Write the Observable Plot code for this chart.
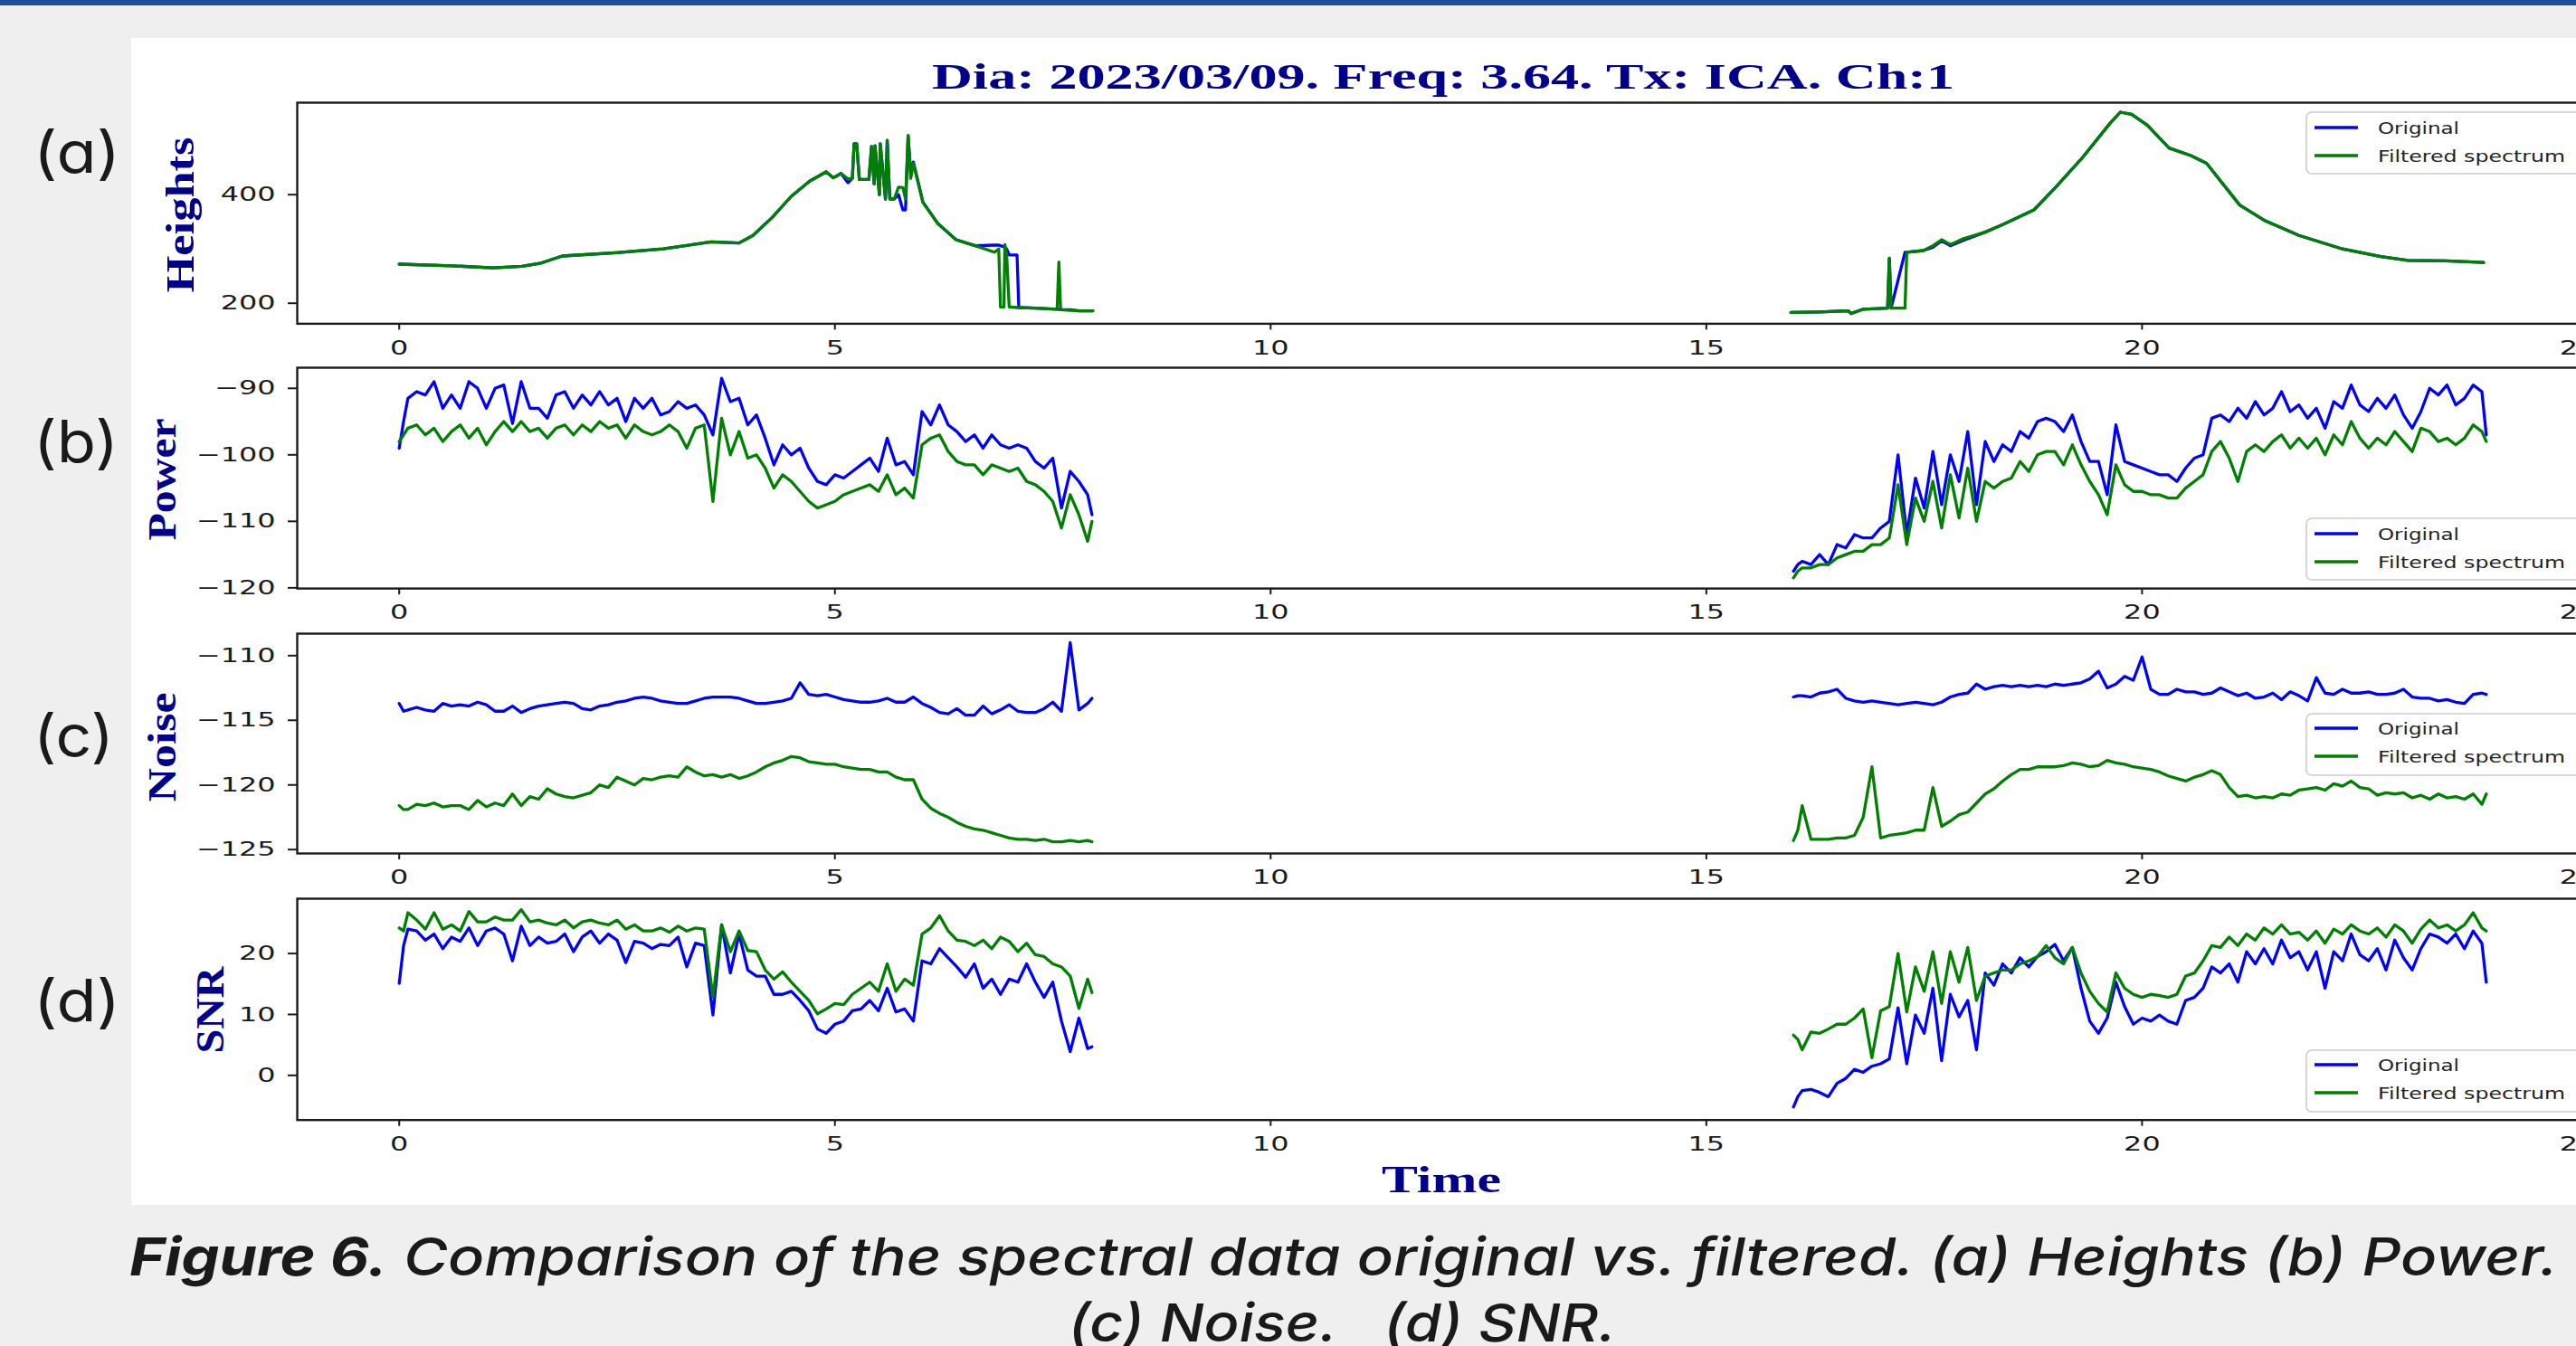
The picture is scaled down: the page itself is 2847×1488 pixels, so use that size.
<!DOCTYPE html>
<html><head><meta charset="utf-8">
<script src="https://cdn.jsdelivr.net/npm/d3@7"></script>
<script src="https://cdn.jsdelivr.net/npm/@observablehq/plot@0.6"></script>
<style>
html,body{margin:0;padding:0;width:2847px;height:1488px;overflow:hidden;background:#efefef;}
#topbar{position:absolute;left:0;top:0;width:2847px;height:6px;background:#1f4e9c;}
#panel{position:absolute;left:145px;top:42px;width:2702px;height:1290px;background:#fff;}
#charts svg{position:absolute;left:0;}
#overlay{position:absolute;left:0;top:0;}
</style></head><body>
<div id="topbar"></div><div id="panel"></div>
<div id="charts"></div>
<svg id="overlay" width="2847" height="1488"></svg>
<script>
// ---------- DATA ----------
const titleText = "Dia: 2023/03/09. Freq: 3.64. Tx: ICA. Ch:1";
const xLabel = "Time";
const yLabels = ["Heights", "Power", "Noise", "SNR"];
const panelTags = ["(a)", "(b)", "(c)", "(d)"];
const seriesNames = ["Original", "Filtered spectrum"];
const xTicks = [0, 5, 10, 15, 20, 25];
const yTicksHeights = [200, 400];
const yTicksPower = [-90, -100, -110, -120];
const yTicksNoise = [-110, -115, -120, -125];
const yTicksSNR = [0, 10, 20];
const captionBold = "Figure 6.";
const captionRest = " Comparison of the spectral data original vs. filtered. (a) Heights (b) Power.";
const captionLine2 = "(c) Noise.\u00a0\u00a0 (d) SNR.";

// time grids (hours)
const tL = [0,0.05,0.1,0.2,0.3,0.4,0.5,0.6,0.7,0.8,
 0.9,1.0,1.1,1.2,1.3,1.4,1.5,1.6,1.7,1.8,
 1.9,2.0,2.1,2.2,2.3,2.4,2.5,2.6,2.7,2.8,
 2.9,3.0,3.1,3.2,3.3,3.4,3.5,3.6,3.7,3.8,
 3.9,4.0,4.1,4.2,4.3,4.4,4.5,4.6,4.7,4.8,
 4.9,5.0,5.1,5.2,5.3,5.4,5.5,5.6,5.7,5.8,
 5.9,6.0,6.1,6.2,6.3,6.4,6.5,6.6,6.7,6.8,
 6.9,7.0,7.1,7.2,7.3,7.4,7.5,7.6,7.7,7.8,
 7.9,7.95];
const tR = [16,16.05,16.1,16.2,16.3,16.4,16.5,16.6,16.7,16.8,
 16.9,17.0,17.1,17.2,17.3,17.4,17.5,17.6,17.7,17.8,
 17.9,18.0,18.1,18.2,18.3,18.4,18.5,18.6,18.7,18.8,
 18.9,19.0,19.1,19.2,19.3,19.4,19.5,19.6,19.7,19.8,
 19.9,20.0,20.1,20.2,20.3,20.4,20.5,20.6,20.7,20.8,
 20.9,21.0,21.1,21.2,21.3,21.4,21.5,21.6,21.7,21.8,
 21.9,22.0,22.1,22.2,22.3,22.4,22.5,22.6,22.7,22.8,
 22.9,23.0,23.1,23.2,23.3,23.4,23.5,23.6,23.7,23.8,
 23.9,23.95];

// (a) Heights
const hTL = [0,0.6,1.08,1.41,1.63,1.87,2.49,3.03,3.58,3.9,4.06,4.28,4.5,4.71,4.9,4.98,5.07,5.15,5.2,5.22,
 5.25,5.28,5.39,5.42,5.45,5.46,5.51,5.52,5.58,5.6,5.63,5.68,5.73,5.78,5.81,5.84,5.87,5.9,6.01,6.18,
 6.39,6.61,6.83,6.88,6.9,6.94,6.95,6.97,7.0,7.09,7.11,7.3,7.55,7.57,7.59,7.7,7.8,7.96];
const hOrigL = [272,269,265,268,274,287,293,300,313,311,325,358,397,425,442,431,439,422,430,494,
 494,428,428,489,420,490,400,494,392,500,392,392,400,372,372,509,440,460,386,347,
 317,306,307,307,306,304,303,300,289,289,192,191,189,189,188,188,186,186];
const hFiltL = [272,269,265,268,274,287,293,300,313,311,325,358,397,425,442,431,439,429,430,494,
 494,428,428,489,420,490,400,494,392,500,392,392,414,413,392,509,430,458,386,347,
 317,306,294,300,193,193,308,290,193,192,192,191,189,276,188,187,186,186];
const hTR = [15.97,16.3,16.63,16.66,16.8,17.08,17.1,17.12,17.28,17.3,17.49,17.6,17.7,17.8,17.95,18.2,18.39,18.76,19.01,19.32,
 19.63,19.75,19.88,20.06,20.31,20.56,20.74,21.12,21.4,21.8,22.3,22.74,23.05,23.49,23.92];
const hOrigR = [183,184,186,181,189,191,283,191,294,294,297,303,315,306,316,331,344,372,414,469,
 531,552,548,528,486,472,458,381,353,325,300,286,279,278,275];
const hFiltR = [183,184,186,181,189,191,283,191,191,294,297,306,317,308,319,331,344,372,414,469,
 531,552,548,528,486,472,458,381,353,325,300,286,279,278,275];

// (b) Power
const powOrigL = [-99,-95,-91.5,-90.5,-91,-89,-93,-91,-93,-89,
 -90,-93,-90,-89.5,-95.3,-89,-93,-93,-94.5,-91,
 -90.5,-93,-91,-92.5,-90.5,-92.5,-91.5,-95,-91.5,-93,
 -91.5,-94,-93.5,-92,-93,-92.5,-94,-97,-88.5,-92,
 -91.5,-95.5,-94,-97.5,-101.5,-98.5,-100,-99,-102,-104,
 -104.5,-103,-103.5,-102.5,-101.5,-100.5,-102.5,-97.5,-101.5,-101,
 -103,-93.5,-95.5,-92.5,-95.5,-96.5,-98,-97,-99,-97,
 -98.5,-99,-98.5,-99,-101,-102,-100.5,-108,-102.5,-104,
 -106,-109];
const powFiltL = [-98,-97,-96,-95.5,-97,-96,-98,-96.5,-95.5,-97.5,
 -96,-98.5,-96.5,-95,-96.5,-95,-96.5,-96,-97.5,-96,
 -95.5,-97,-95.5,-96.5,-95,-96,-95.5,-97.5,-95.5,-96.5,
 -97,-96.5,-95.5,-96.5,-99,-96,-95.5,-107,-94.5,-100,
 -96.5,-100.5,-100,-102,-105,-103,-104,-105.5,-107,-108,
 -107.5,-107,-106,-105.5,-105,-104.5,-105.5,-103,-106,-105,
 -106.5,-98.5,-97.5,-97,-99.5,-101,-101.5,-101.5,-103,-101.5,
 -102,-102.5,-102,-104,-104.5,-105.5,-107,-111,-106,-109,
 -113,-110];
const powOrigR = [-117.5,-116.5,-116,-116.5,-115,-116.5,-113.5,-114,-112,-112.5,
 -112.5,-111,-110,-100,-112,-103.5,-108,-99.5,-107.5,-100,
 -104,-96.5,-107.5,-98,-101,-98.5,-99.5,-96.5,-97.5,-95,
 -94.5,-95,-96.5,-94,-98,-101,-101,-106,-95.5,-101,
 -101.5,-102,-102.5,-103,-103,-104,-102,-100.5,-100,-94.5,
 -94,-95,-93,-94.5,-92,-94,-93,-90.5,-93.5,-92.5,
 -94.5,-93,-96,-92,-93,-89.5,-92.5,-93.5,-91.5,-93,
 -91,-94,-96,-93.5,-90,-91,-89.5,-92.5,-91.5,-89.5,
 -90.5,-97];
const powFiltR = [-118.5,-117.5,-117,-117,-116.5,-116.5,-115.5,-115,-114.5,-114.5,
 -113.5,-113.5,-112.5,-104.5,-113.5,-106.5,-110,-104,-111,-103,
 -109.5,-102,-110,-104,-105,-104,-103.5,-101,-102.5,-100,
 -99.5,-99.5,-101.5,-98.5,-101.5,-104,-106,-109,-101.5,-104.5,
 -105.5,-105.5,-106,-106,-106.5,-106.5,-105,-104,-103,-99.5,
 -98,-100.5,-104,-99.5,-98.5,-99.5,-98,-97,-99,-97.5,
 -99,-97.5,-100,-97,-98.5,-95,-97.5,-99,-97.5,-98.5,
 -96.5,-98,-99.5,-96,-96.5,-98,-97.5,-98.5,-97.5,-95.5,
 -96.5,-98];

// (c) Noise
const noiseOrigL = [-113.7,-114.3,-114.2,-114.0,-114.2,-114.3,-113.7,-113.9,-113.8,-113.9,
 -113.6,-113.8,-114.3,-114.3,-113.9,-114.4,-114.1,-113.9,-113.8,-113.7,
 -113.6,-113.7,-114.1,-114.2,-113.9,-113.8,-113.6,-113.5,-113.3,-113.2,
 -113.3,-113.5,-113.6,-113.7,-113.7,-113.5,-113.3,-113.2,-113.2,-113.2,
 -113.3,-113.5,-113.7,-113.7,-113.6,-113.5,-113.3,-112.1,-113.0,-113.1,
 -113.0,-113.2,-113.4,-113.5,-113.6,-113.6,-113.5,-113.3,-113.6,-113.6,
 -113.2,-113.7,-114.0,-114.4,-114.5,-114.1,-114.6,-114.6,-113.9,-114.5,
 -114.2,-113.8,-114.3,-114.4,-114.4,-114.1,-113.6,-114.3,-109.0,-114.2,
 -113.7,-113.3];
const noiseFiltL = [-121.6,-121.9,-121.9,-121.5,-121.6,-121.4,-121.7,-121.6,-121.6,-121.9,
 -121.2,-121.7,-121.4,-121.6,-120.7,-121.6,-120.9,-121.1,-120.3,-120.7,
 -120.9,-121.0,-120.8,-120.6,-120.0,-120.2,-119.4,-119.7,-120.0,-119.5,
 -119.6,-119.4,-119.3,-119.4,-118.6,-119.0,-119.3,-119.2,-119.4,-119.2,
 -119.5,-119.3,-119.0,-118.6,-118.3,-118.1,-117.8,-117.9,-118.2,-118.3,
 -118.4,-118.4,-118.6,-118.7,-118.8,-118.8,-119.0,-119.0,-119.4,-119.6,
 -119.6,-121.1,-121.8,-122.2,-122.5,-122.9,-123.2,-123.4,-123.5,-123.7,
 -123.9,-124.1,-124.2,-124.2,-124.3,-124.2,-124.4,-124.4,-124.3,-124.4,
 -124.3,-124.4];
const noiseOrigR = [-113.2,-113.1,-113.1,-113.2,-112.9,-112.8,-112.6,-113.3,-113.5,-113.6,
 -113.5,-113.6,-113.7,-113.8,-113.7,-113.6,-113.7,-113.8,-113.6,-113.2,
 -113.0,-112.9,-112.2,-112.6,-112.4,-112.3,-112.4,-112.3,-112.4,-112.3,
 -112.4,-112.2,-112.3,-112.2,-112.1,-111.8,-111.2,-112.5,-112.2,-111.6,
 -111.9,-110.1,-112.6,-113.0,-113.0,-112.6,-112.8,-112.8,-113.0,-112.9,
 -112.5,-112.8,-113.1,-112.9,-113.3,-113.2,-112.9,-113.4,-112.8,-113.1,
 -113.5,-111.7,-112.9,-113.0,-112.6,-112.9,-112.9,-112.8,-113.0,-113.0,
 -112.9,-112.6,-113.2,-113.3,-113.3,-113.5,-113.4,-113.6,-113.7,-113.0,
 -112.9,-113.0];
const noiseFiltR = [-124.3,-123.5,-121.6,-124.2,-124.2,-124.2,-124.1,-124.1,-123.9,-122.5,
 -118.6,-124.1,-123.9,-123.8,-123.7,-123.5,-123.5,-120.2,-123.2,-122.8,
 -122.3,-122.1,-121.4,-120.7,-120.3,-119.7,-119.2,-118.8,-118.8,-118.6,
 -118.6,-118.6,-118.5,-118.3,-118.4,-118.6,-118.5,-118.1,-118.3,-118.4,
 -118.6,-118.7,-118.8,-119.0,-119.3,-119.5,-119.7,-119.4,-119.2,-118.9,
 -119.2,-120.2,-120.9,-120.8,-121.0,-120.9,-121.0,-120.7,-120.8,-120.4,
 -120.3,-120.2,-120.4,-119.9,-120.1,-119.7,-120.2,-120.3,-120.8,-120.6,
 -120.7,-120.6,-121.0,-120.8,-121.1,-120.7,-121.0,-120.9,-121.1,-120.7,
 -121.5,-120.7];

// (d) SNR
const snrOrigL = [15.1,21.3,24.0,23.7,22.2,23.2,20.8,22.7,22.0,24.2,
 21.3,23.7,24.2,23.2,18.8,24.5,21.3,22.7,21.7,22.0,
 23.2,20.3,22.7,23.7,21.7,23.2,22.2,18.5,22.0,21.7,
 20.8,21.5,21.3,22.7,17.8,21.7,21.3,9.9,24.7,16.8,
 23.2,17.3,16.3,16.3,13.3,13.3,13.8,12.3,10.6,7.6,
 6.9,8.4,8.9,10.6,10.9,12.3,10.6,14.3,10.4,10.9,
 8.9,18.8,18.3,20.8,19.3,17.8,16.1,18.3,14.3,15.8,
 13.3,15.8,15.3,18.3,15.3,12.8,15.3,8.9,3.9,9.4,
 4.4,4.7];
const snrFiltL = [24.2,23.7,26.7,25.5,24.0,26.7,24.0,24.7,23.7,26.9,
 25.2,25.2,26.0,25.5,25.5,27.2,25.2,25.5,25.0,24.7,
 25.5,24.2,25.2,25.5,25.0,24.7,25.5,24.0,24.7,23.7,
 23.7,24.2,23.5,24.5,23.7,24.2,24.0,12.8,24.7,20.3,
 23.7,20.5,20.3,17.3,15.8,17.0,15.3,13.8,12.3,10.1,
 10.9,11.8,11.6,13.3,14.3,15.3,13.8,18.3,13.8,15.8,
 14.8,23.2,24.2,26.2,23.7,22.2,22.0,21.3,22.2,20.8,
 22.7,22.0,20.3,21.7,19.8,19.5,18.3,17.8,16.3,11.0,
 15.8,13.6];
const snrOrigR = [-5.2,-3.5,-2.5,-2.3,-2.8,-3.5,-1.3,-0.5,1.0,0.5,
 1.5,1.9,2.7,11.1,1.9,9.9,6.9,14.3,2.4,13.3,
 9.6,12.3,4.2,16.8,14.8,18.3,16.8,19.3,17.8,19.5,
 20.3,21.5,18.8,21.0,14.3,8.9,6.9,9.4,15.3,11.3,
 8.4,9.4,8.9,9.9,8.9,8.4,12.3,12.8,14.3,17.8,
 16.8,18.3,15.3,20.3,18.3,20.8,18.3,22.2,19.3,20.3,
 17.3,20.3,14.3,20.3,18.8,23.2,19.8,18.8,20.8,17.3,
 22.2,19.3,17.3,20.8,23.2,22.7,21.7,23.2,20.8,23.7,
 21.7,15.3];
const snrFiltR = [6.6,5.9,4.2,7.1,6.9,7.6,8.4,8.4,9.4,10.9,
 2.9,10.6,11.3,20.0,10.4,17.8,13.8,20.3,11.8,20.3,
 15.3,21.0,12.3,16.3,16.8,17.3,17.3,18.3,18.8,19.5,
 21.3,19.3,18.3,21.0,16.8,13.8,11.8,10.4,16.8,14.3,
 13.3,12.8,13.3,13.1,12.8,13.3,16.3,16.8,18.8,21.3,
 21.0,22.7,21.3,23.2,22.2,24.2,23.2,24.7,23.2,23.5,
 22.2,23.7,21.7,24.0,23.2,24.7,23.7,23.2,24.2,22.7,
 24.7,23.7,21.7,24.0,25.5,24.2,24.7,23.7,24.7,26.7,
 24.2,23.7];

// ---------- LAYOUT ----------
const BLUE = "#0000ff", GREEN = "#008000", NAVY = "#00008b";
const SVG_W = 2900, ML = 328, MR = 39, MT = 10, MB = 50;
const XDOM = [-1.17, 25.13];

function rows(ts, vs, s) { return ts.map((t, i) => ({t, v: vs[i], s})); }
const fmt = d => d < 0 ? "\u2212" + Math.abs(d) : String(d);

const panels = [
  {top: 113.3, h: 244.4, ydom: [162.2, 569.5], yt: yTicksHeights,
   orig: [...rows(hTL, hOrigL, "L"), ...rows(hTR, hOrigR, "R")],
   filt: [...rows(hTL, hFiltL, "L"), ...rows(hTR, hFiltR, "R")]},
  {top: 406.4, h: 244.1, ydom: [-120.1, -86.9], yt: yTicksPower,
   orig: [...rows(tL, powOrigL, "L"), ...rows(tR, powOrigR, "R")],
   filt: [...rows(tL, powFiltL, "L"), ...rows(tR, powFiltR, "R")]},
  {top: 700, h: 243, ydom: [-125.3, -108.3], yt: yTicksNoise,
   orig: [...rows(tL, noiseOrigL, "L"), ...rows(tR, noiseOrigR, "R")],
   filt: [...rows(tL, noiseFiltL, "L"), ...rows(tR, noiseFiltR, "R")]},
  {top: 992.8, h: 244.7, ydom: [-7.33, 29.0], yt: yTicksSNR,
   orig: [...rows(tL, snrOrigL, "L"), ...rows(tR, snrOrigR, "R")],
   filt: [...rows(tL, snrFiltL, "L"), ...rows(tR, snrFiltR, "R")]}
];

const holder = document.getElementById("charts");
for (const p of panels) {
  const chart = Plot.plot({
    width: SVG_W, height: MT + p.h + MB,
    marginLeft: ML, marginRight: MR, marginTop: MT, marginBottom: MB,
    x: {domain: XDOM},
    y: {domain: p.ydom},
    style: {background: "transparent", maxWidth: "none", overflow: "visible",
            fontFamily: "DejaVu Sans", fontSize: "22px", color: "#1a1a1a"},
    marks: [
      Plot.axisX({ticks: xTicks, tickFormat: fmt, tickSize: 7, tickPadding: 11, strokeWidth: 2, label: null}),
      Plot.axisY({ticks: p.yt, tickFormat: fmt, tickSize: 10, tickPadding: 14, strokeWidth: 2, label: null}),
      Plot.line(p.orig, {x: "t", y: "v", z: "s", stroke: BLUE, strokeWidth: 3.3}),
      Plot.line(p.filt, {x: "t", y: "v", z: "s", stroke: GREEN, strokeWidth: 3.3}),
      Plot.frame({stroke: "#1a1a1a", strokeWidth: 2.4})
    ]
  });
  chart.style.position = "absolute";
  chart.style.left = "0px";
  chart.style.top = (p.top - MT) + "px";
  // emulate the horizontally stretched tick lettering of the source figure
  for (const t of chart.querySelectorAll('[aria-label="x-axis tick label"] text, [aria-label="y-axis tick label"] text')) {
    const tr = t.getAttribute("transform");
    if (tr) t.setAttribute("transform", tr + " scale(1.45,1)");
    else {
      const ax = +(t.getAttribute("x") || 0);
      t.setAttribute("transform", `translate(${ax},0) scale(1.45,1) translate(${-ax},0)`);
    }
  }
  holder.appendChild(chart);
}

// ---------- OVERLAY TEXT / LEGENDS ----------
const ov = d3.select("#overlay");
const serif = "'Liberation Serif', 'Times New Roman', serif";
ov.append("text").attr("x", 1030).attr("y", 98).attr("font-family", serif).attr("font-weight", "bold")
  .attr("font-size", 40).attr("fill", NAVY).attr("textLength", 1130).attr("lengthAdjust", "spacingAndGlyphs").text(titleText);

const ylab = [
  {x: 214, y: 237.5, len: 172}, {x: 193.5, y: 530, len: 135},
  {x: 193.5, y: 826, len: 121}, {x: 246.5, y: 1116.5, len: 96}
];
ylab.forEach((d, i) => {
  ov.append("text").attr("transform", `translate(${d.x},${d.y}) rotate(-90)`).attr("text-anchor", "middle")
    .attr("font-family", serif).attr("font-weight", "bold").attr("font-size", 44).attr("fill", NAVY)
    .attr("textLength", d.len).attr("lengthAdjust", "spacingAndGlyphs").text(yLabels[i]);
});
ov.append("text").attr("x", 1527).attr("y", 1318).attr("font-family", serif).attr("font-weight", "bold")
  .attr("font-size", 42).attr("fill", NAVY).attr("textLength", 132).attr("lengthAdjust", "spacingAndGlyphs").text(xLabel);

const tags = [{y: 167, len: 96}, {y: 487, len: 94}, {y: 812, len: 89}, {y: 1105, len: 96}];
tags.forEach((d, i) => {
  ov.append("text").attr("x", 37).attr("y", d.y).attr("dominant-baseline", "central")
    .attr("font-family", "Inter, 'Noto Sans', sans-serif").attr("font-size", 64).attr("fill", "#1a1a1a")
    .style("font-feature-settings", "'cv11' 1")
    .attr("textLength", d.len).attr("lengthAdjust", "spacingAndGlyphs").text(panelTags[i]);
});

const legends = [{top: 124, r1: 141}, {top: 573, r1: 590}, {top: 789, r1: 805}, {top: 1161, r1: 1177}];
for (const L of legends) {
  ov.append("rect").attr("x", 2549).attr("y", L.top).attr("width", 340).attr("height", 68).attr("rx", 6)
    .attr("fill", "white").attr("fill-opacity", 0.85).attr("stroke", "#cccccc").attr("stroke-width", 1.6);
  [BLUE, GREEN].forEach((c, j) => {
    const y = L.r1 + j * 31;
    ov.append("line").attr("x1", 2558).attr("x2", 2606).attr("y1", y).attr("y2", y).attr("stroke", c).attr("stroke-width", 3.3);
    ov.append("text").attr("x", 2628).attr("y", y).attr("dominant-baseline", "central")
      .attr("font-family", "DejaVu Sans").attr("font-size", 18).attr("fill", "#222")
      .attr("textLength", j ? 207 : 90).attr("lengthAdjust", "spacingAndGlyphs").text(seriesNames[j]);
  });
}

const cap = ov.append("text").attr("x", 143).attr("y", 1410).attr("font-family", "Inter, 'Noto Sans', sans-serif")
  .attr("font-size", 58).attr("font-style", "italic").attr("font-weight", 500).attr("fill", "#1a1a1a").style("font-feature-settings", "'cv11' 1")
  .attr("textLength", 2684).attr("lengthAdjust", "spacingAndGlyphs");
cap.append("tspan").attr("font-weight", "bold").text(captionBold);
cap.append("tspan").text(captionRest);
ov.append("text").attr("x", 1181).attr("y", 1483).attr("font-family", "Inter, 'Noto Sans', sans-serif")
  .attr("font-size", 58).attr("font-style", "italic").attr("font-weight", 500).attr("fill", "#1a1a1a").style("font-feature-settings", "'cv11' 1")
  .attr("textLength", 605).attr("lengthAdjust", "spacingAndGlyphs").text(captionLine2);
</script>
</body></html>
